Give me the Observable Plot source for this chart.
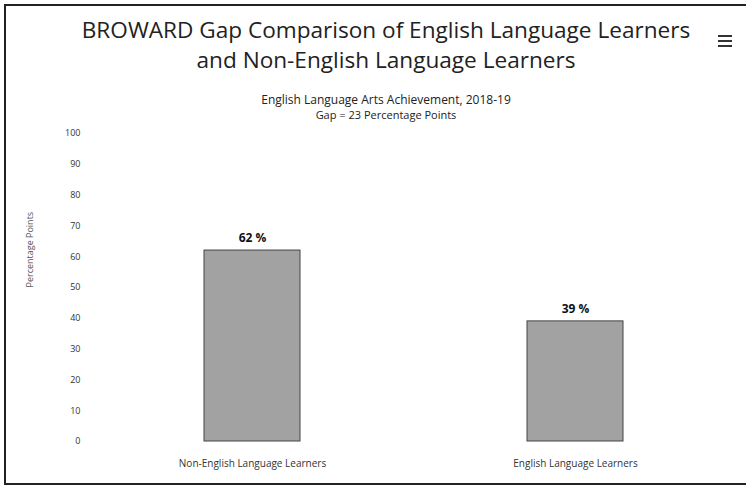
<!DOCTYPE html>
<html>
<head>
<meta charset="utf-8">
<script src="https://cdn.jsdelivr.net/npm/d3@7"></script>
<script src="https://cdn.jsdelivr.net/npm/@observablehq/plot@0.6"></script>
<style>
  html, body { margin: 0; padding: 0; background: #fff; }
  #wrap { position: relative; width: 746px; height: 495px; overflow: hidden; font-family: "Open Sans", "DejaVu Sans", sans-serif; }
  #frame { position: absolute; left: 4px; top: 4px; width: 760px; height: 477px; border-top: 2px solid #222; border-left: 2px solid #222; border-bottom: 2px solid #222; }
  .t { position: absolute; left: 0; width: 772px; text-align: center; color: #222; white-space: nowrap; }
  #title1 { top: 14px; font-size: 22.6px; }
  #title2 { top: 44px; font-size: 22.6px; }
  #sub1 { top: 91px; font-size: 12px; }
  #sub2 { top: 107px; font-size: 11px; }
  #menu { position: absolute; left: 718px; top: 35px; width: 14px; }
  #menu div { height: 2px; background: #333; margin-bottom: 3px; }
  #chart { position: absolute; left: 0; top: 0; }
</style>
</head>
<body>
<div id="wrap">
  <div id="frame"></div>
  <div class="t" id="title1">BROWARD Gap Comparison of English Language Learners</div>
  <div class="t" id="title2">and Non-English Language Learners</div>
  <div class="t" id="sub1">English Language Arts Achievement, 2018-19</div>
  <div class="t" id="sub2">Gap = 23 Percentage Points</div>
  <div id="menu"><div></div><div></div><div></div></div>
  <div id="chart"></div>
</div>
<script>
const categories = ["Non-English Language Learners", "English Language Learners"];
const values = [62, 39];
const yTicks = [0, 10, 20, 30, 40, 50, 60, 70, 80, 90, 100];
const yLabel = "Percentage Points";

const data = categories.map((c, i) => ({category: c, value: values[i]}));

const chart = Plot.plot({
  width: 746,
  height: 495,
  marginLeft: 88,
  marginRight: 7,
  marginTop: 133,
  marginBottom: 54,
  style: {background: "transparent", fontFamily: "'Open Sans', 'DejaVu Sans', sans-serif", color: "#333"},
  x: {domain: categories, paddingInner: 0.704, paddingOuter: 0.358, label: null},
  y: {domain: [0, 100], ticks: yTicks, label: null},
  marks: [
    Plot.axisX({tickSize: 0, tickPadding: 18, fontSize: 10, label: null}),
    Plot.axisY({ticks: yTicks, tickSize: 0, tickPadding: 8, fontSize: 9, label: null}),
    Plot.text([yLabel], {frameAnchor: "left", dx: -58, rotate: -90, fontSize: 9, fill: "#555"}),
    Plot.barY(data, {x: "category", y: "value", fill: "#a2a2a2", stroke: "#444", strokeWidth: 1}),
    Plot.text(data, {x: "category", y: "value", text: d => d.value + " %", dy: -12, fontSize: 12, fontWeight: "bold", fill: "#111"})
  ]
});
document.getElementById("chart").appendChild(chart);
</script>
</body>
</html>
